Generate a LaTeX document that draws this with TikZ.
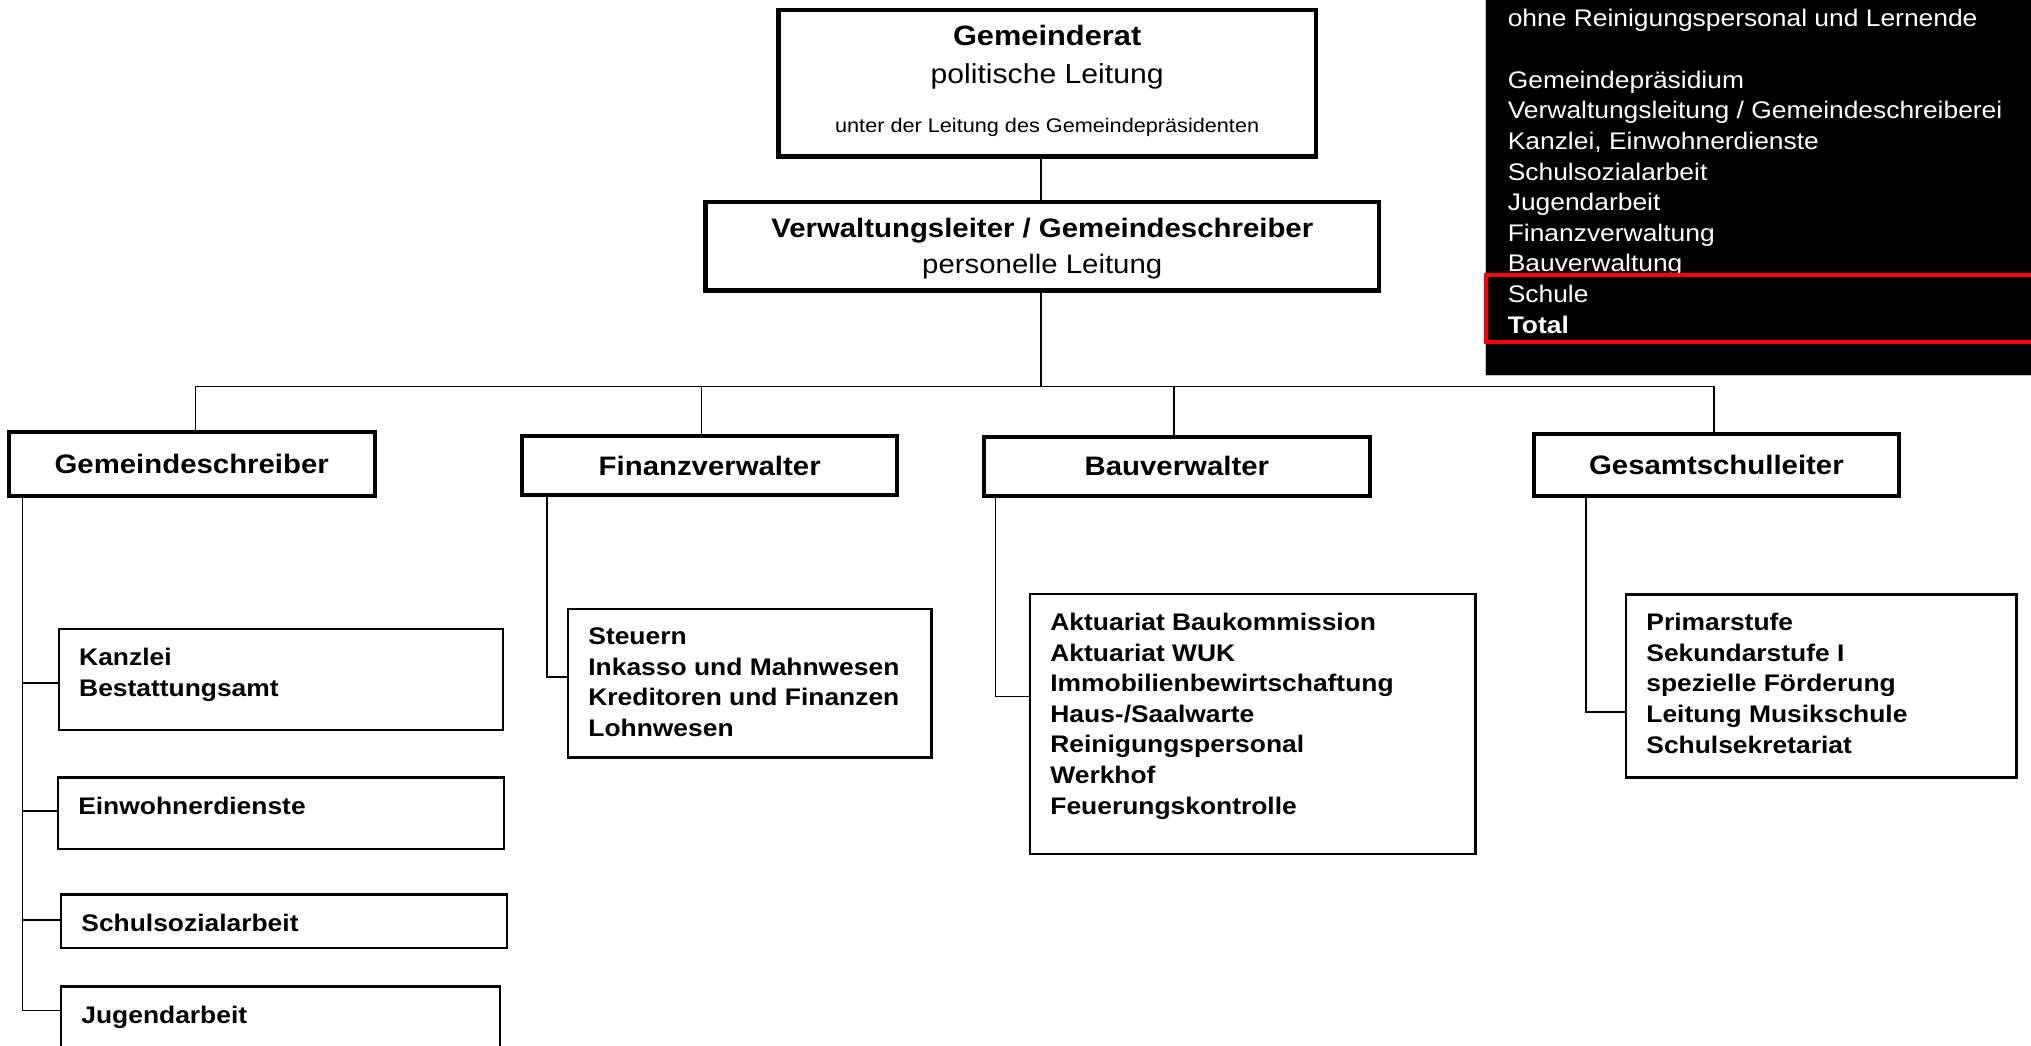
\documentclass[tikz,border=0pt]{standalone}
\usepackage{fontspec}
\setmainfont{Liberation Sans}[FakeStretch=1.1]
\usetikzlibrary{positioning}

\newcommand{\orgtopfont}{\fontsize{13.35}{17.85}\selectfont}
\newcommand{\orgratfont}{\fontsize{14}{18.85}\selectfont}
\newcommand{\orgitemfont}{\fontsize{12}{15.3}\selectfont\bfseries}
\newcommand{\orglegendfont}{\fontsize{12}{15.3}\selectfont}
\newcommand{\orgsmallfont}{\fontsize{9.85}{11.5}\selectfont}

\begin{document}
\begin{tikzpicture}[x=0.5pt, y=-0.5pt,
    conn/.style={line width=0.7pt},
    topbox/.style={draw, line width=2.3pt, outer sep=0pt},
    toptext/.style={inner sep=0pt, align=center, font=\orgtopfont},
    headbox/.style={draw, line width=2pt, outer sep=0pt, font=\orgtopfont\bfseries},
    itembox/.style={draw, line width=1.3pt, outer sep=0pt, anchor=north west},
    itemtext/.style={inner sep=0pt, align=left, font=\orgitemfont},
    legendtext/.style={inner sep=0pt, align=left, text=white, font=\orglegendfont}]

\path[use as bounding box] (0,0) rectangle (2031,1045);
\clip (0,0) rectangle (2031,1045);

% Stellenuebersicht (oben rechts)
\node[draw=gray!50, line width=0.5pt, fill=black, outer sep=0pt, anchor=south west,
      minimum width=300pt, minimum height=200pt] (stellen) at (1485,375) {};
\node[legendtext, anchor=north west] (stellen-t) at (1507.4,8.7)
    {ohne Reinigungspersonal und Lernende\\[15.6pt]
     Gemeindepr\"asidium\\
     Verwaltungsleitung / Gemeindeschreiberei\\
     Kanzlei, Einwohnerdienste\\
     Schulsozialarbeit\\
     Jugendarbeit\\
     Finanzverwaltung\\
     Bauverwaltung\\
     Schule\\
     \textbf{Total}};
\draw[red, line width=2pt] (1486.3,275) rectangle (2045,341.7);

% Leitung
\node[topbox, minimum width=268.85pt, minimum height=73.35pt] (rat) at (1047.15,83.35) {};
\node[toptext, font=\orgratfont, below=7.4pt of rat.north] (rat-t)
    {\textbf{Gemeinderat}\\{\fontsize{13.7}{18.85}\selectfont politische Leitung}\\[5.8pt]
     {\orgsmallfont unter der Leitung des Gemeindepr\"asidenten}};
\node[topbox, minimum width=336.75pt, minimum height=44.15pt] (leiter) at (1042.25,246.15) {};
\node[toptext, below=8.1pt of leiter.north] (leiter-t)
    {\textbf{Verwaltungsleiter / Gemeindeschreiber}\\personelle Leitung};

% Abteilungen
\node[headbox, minimum width=182.75pt, minimum height=32.15pt] (schreiber) at (191.75,463.85) {Gemeindeschreiber};
\node[headbox, minimum width=187.3pt, minimum height=29.5pt] (finanz) at (709.7,465.5) {Finanzverwalter};
\node[headbox, minimum width=192.9pt, minimum height=29.65pt] (bau) at (1176.9,466.35) {Bauverwalter};
\node[headbox, minimum width=182.6pt, minimum height=30.85pt] (schule) at (1716.4,465.15) {Gesamtschulleiter};

% Bereiche, Text oben links im Kasten
\node[itembox, minimum width=222.1pt, minimum height=50.5pt] (kanzlei) at (58.8,629) {};
\node[itemtext, below right=9.3pt and 10pt of kanzlei.north west] (kanzlei-t) {Kanzlei\\Bestattungsamt};

\node[itembox, minimum width=223pt, minimum height=35.65pt] (einwohner) at (57.9,777.7) {};
\node[itemtext, below right=9.3pt and 10pt of einwohner.north west] (einwohner-t) {Einwohnerdienste};

\node[itembox, minimum width=223pt, minimum height=26.65pt] (sozial) at (61,894.7) {};
\node[itemtext, below right=9.3pt and 10pt of sozial.north west] (sozial-t) {Schulsozialarbeit};

\node[itembox, minimum width=219.5pt, minimum height=41.65pt] (jugend) at (61,986.7) {}; % unten abgeschnitten
\node[itemtext, below right=9.3pt and 10pt of jugend.north west] (jugend-t) {Jugendarbeit};

\node[itembox, minimum width=181.75pt, minimum height=74.35pt] (steuern) at (568,609) {};
\node[itemtext, below right=9.3pt and 10pt of steuern.north west] (steuern-t)
    {Steuern\\Inkasso und Mahnwesen\\Kreditoren und Finanzen\\Lohnwesen};

\node[itembox, minimum width=222.85pt, minimum height=130pt] (aktuar) at (1030,594) {};
\node[itemtext, below right=9.3pt and 10pt of aktuar.north west] (aktuar-t)
    {Aktuariat Baukommission\\Aktuariat WUK\\Immobilienbewirtschaftung\\Haus-/Saalwarte\\
     Reinigungspersonal\\Werkhof\\Feuerungskontrolle};

\node[itembox, minimum width=195.35pt, minimum height=91.7pt] (primar) at (1626,594.3) {};
\node[itemtext, below right=9.3pt and 10pt of primar.north west] (primar-t)
    {Primarstufe\\Sekundarstufe I\\spezielle F\"orderung\\Leitung Musikschule\\Schulsekretariat};

% Verbindungen
\coordinate (bus) at (1041,386.5);
\draw[conn] (bus |- rat.south) -- (bus |- leiter.north);
\draw[conn] (bus |- leiter.south) -- (bus);
\draw[conn] ([xshift=2pt]schreiber.north) |- (bus) -| ([xshift=-1.2pt]schule.north);
\draw[conn] ([xshift=-4pt]finanz.north) |- (bus);
\draw[conn] ([xshift=-1.5pt]bau.north) |- (bus);

\foreach \b/\s in {kanzlei/-1.75pt, einwohner/1.2pt, sozial/0.7pt, jugend/8.8pt}
    \draw[conn] ([xshift=6.75pt]schreiber.south west) |- ([yshift=\s]\b.west);
\draw[conn] ([xshift=12.3pt]finanz.south west) |- ([yshift=3.2pt]steuern.west);
\draw[conn] ([xshift=5.75pt]bau.south west) |- ([yshift=13.65pt]aktuar.west);
\draw[conn] ([xshift=26.1pt]schule.south west) |- ([yshift=-13pt]primar.west);

\end{tikzpicture}
\end{document}
